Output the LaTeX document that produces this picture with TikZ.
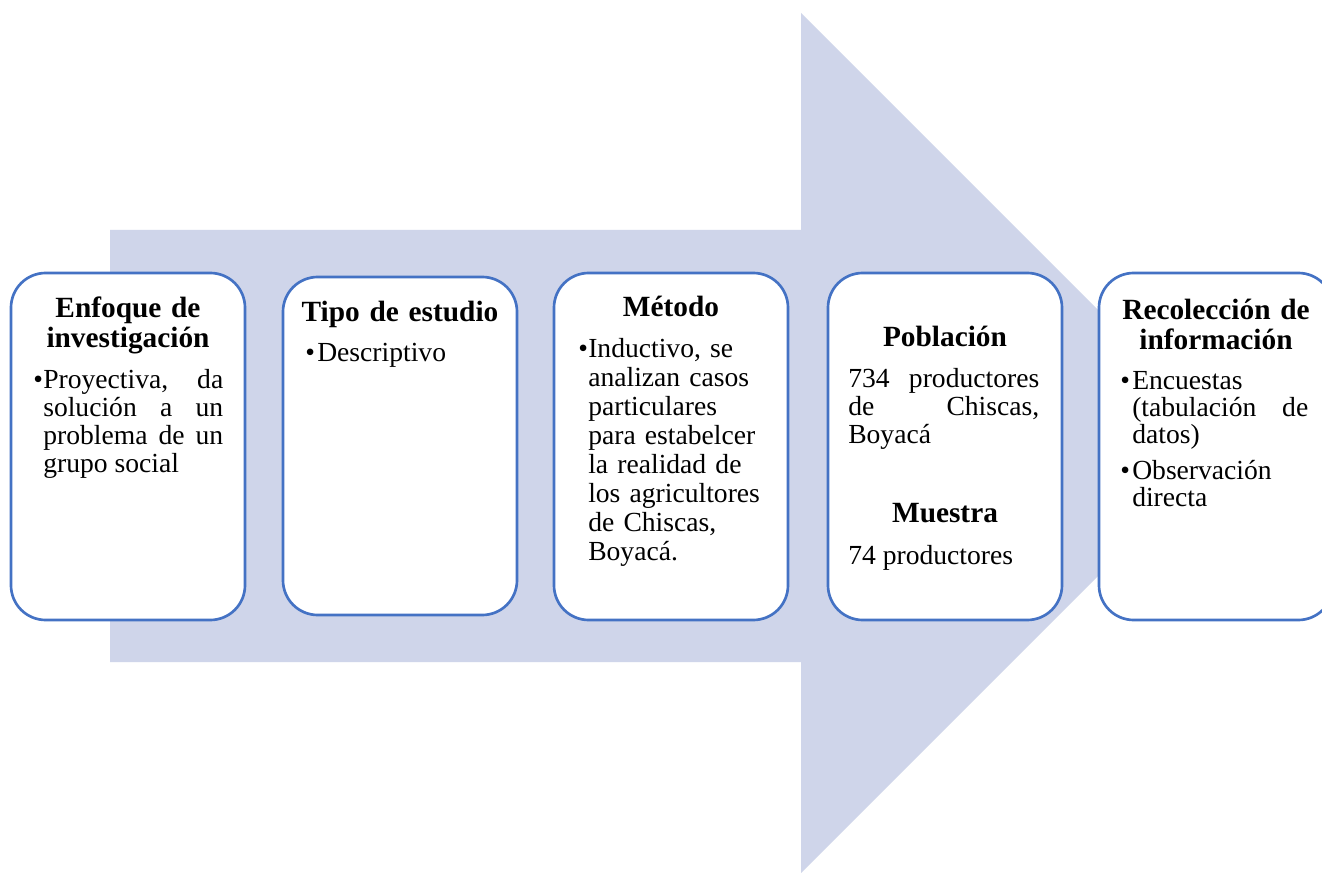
\documentclass[tikz,border=0pt]{standalone}
\usepackage{fontspec}
\setmainfont{Liberation Serif}
\definecolor{arrowfill}{HTML}{CFD5EA}
\definecolor{boxline}{HTML}{4472C4}
\begin{document}
\begin{tikzpicture}[x=0.75pt,y=-0.75pt,
  card/.style={draw=boxline,line width=2pt,fill=white,rounded corners=26pt,inner sep=0pt},
  ttl/.style={font=\fontsize{22}{22.5}\selectfont\bfseries,align=center,inner sep=0pt,anchor=base,text width=165pt},
  bodyj/.style={font=\fontsize{20.7}{21}\selectfont,align=justify,inner sep=0pt,anchor=base west},
  bodyl/.style={font=\fontsize{20.7}{21.75}\selectfont,align=left,inner sep=0pt,anchor=base west,text width=140pt},
  bul/.style={font=\fontsize{20.7}{21}\selectfont,inner sep=0pt,anchor=base west}]
\clip (0,0) rectangle (1322,873);
\fill[white] (0,0) rectangle (1322,873);
% big arrow
\fill[arrowfill] (110,230) -- (801,230) -- (801,13) -- (1231,443) -- (801,873) -- (801,662) -- (110,662) -- cycle;
% cards
\node[card,minimum width=175.5pt,minimum height=260.25pt] (b1) at (128,446.5) {};
\node[card,minimum width=175.5pt,minimum height=253.5pt] (b2) at (400,446) {};
\node[card,minimum width=175.5pt,minimum height=260.25pt] (b3) at (671,446.5) {};
\node[card,minimum width=175.5pt,minimum height=260.25pt] (b4) at (945,446.5) {};
\node[card,minimum width=175.5pt,minimum height=260.25pt] (b5) at (1216,446.5) {};
% box 1
\node[ttl] (t1) at (128,318) {Enfoque de\\investigación};
\node[bul] (u1) at (33,389) {•};
\node[bodyj,text width=135pt] (x1) at (43,389) {Proyectiva, da\linebreak solución a un\linebreak problema de un\linebreak grupo social};
% box 2
\node[ttl] (t2) at (400,322) {Tipo de estudio};
\node[bul] (u2) at (305,362) {•};
\node[bodyj,text width=140pt] (x2) at (317,362) {Descriptivo};
% box 3
\node[ttl] (t3) at (671,317) {Método};
\node[bul] (u3) at (578,358) {•};
\node[bodyl] (x3) at (588,358) {Inductivo, se\\analizan casos\\particulares\\para estabelcer\\la realidad de\\los agricultores\\de Chiscas,\\Boyacá.};
% box 4
\node[ttl] (t4) at (945,347) {Población};
\node[bodyj,text width=143.25pt] (x4) at (848,388) {734 productores\linebreak de Chiscas,\linebreak Boyacá};
\node[ttl] (t4b) at (945,523) {Muestra};
\node[bodyj,text width=143.25pt] (x4b) at (848,565) {74 productores};
% box 5
\node[ttl] (t5) at (1216,320) {Recolección de\\información};
\node[bul] (u5) at (1120,390) {•};
\node[bodyj,text width=132pt,font=\fontsize{20.7}{20.25}\selectfont] (x5) at (1132,390) {Encuestas\linebreak (tabulación de\linebreak datos)};
\node[bul] (u5b) at (1120,480) {•};
\node[bodyj,text width=132pt,font=\fontsize{20.7}{20.25}\selectfont] (x5b) at (1132,480) {Observación\linebreak directa};
\end{tikzpicture}
\end{document}
